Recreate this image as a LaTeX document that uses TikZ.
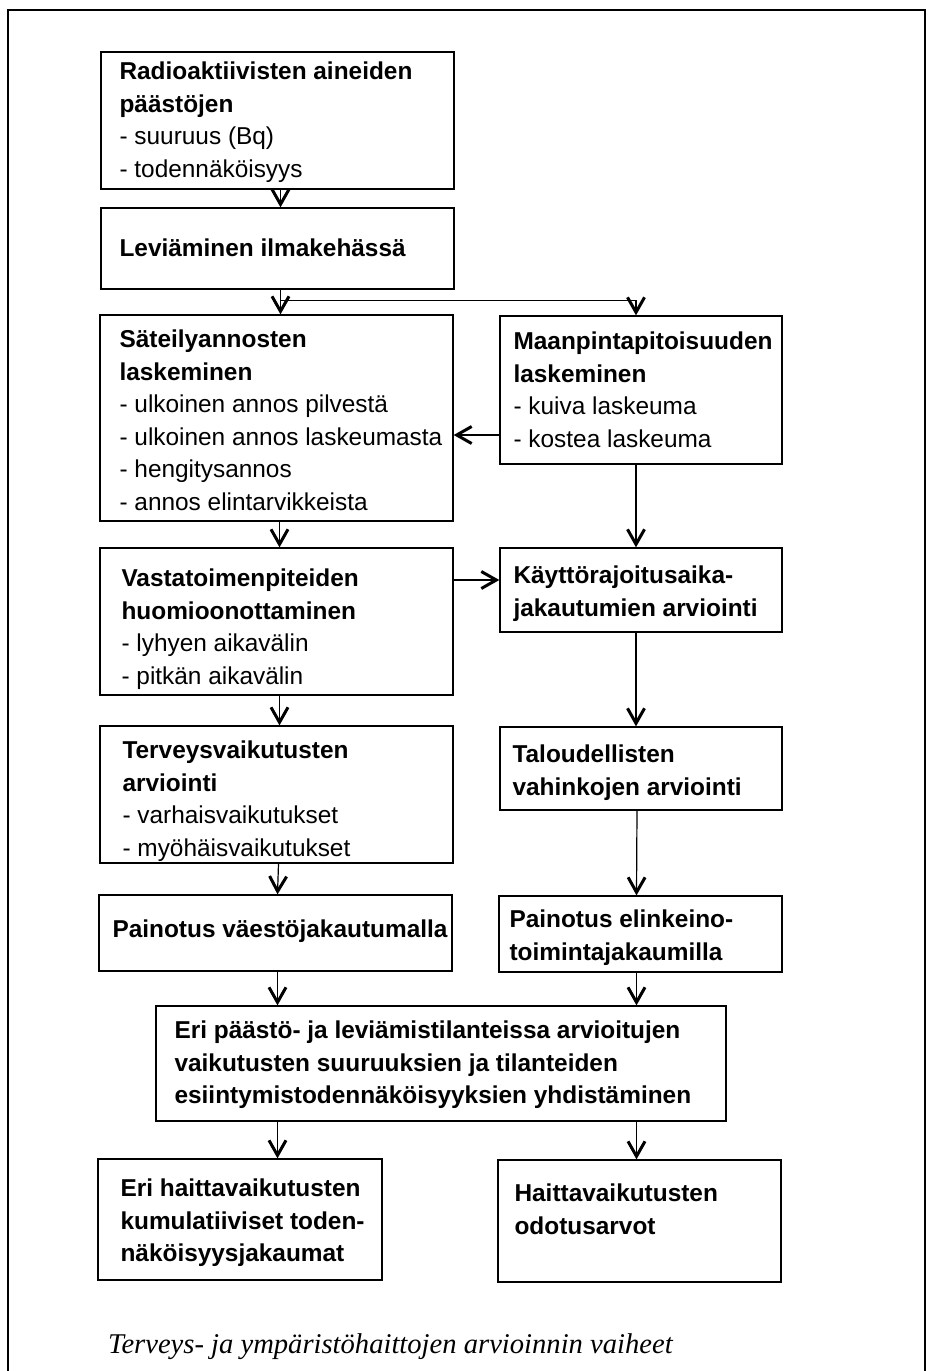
\documentclass[tikz,border=0pt]{standalone}
\usepackage{fontspec}
\setmainfont{Liberation Sans}
\newfontfamily\capfont{Liberation Serif}
\usetikzlibrary{arrows.meta,calc}
\newcommand\tl{\rule{0pt}{23pt}}
\newcommand\mkbox[5]{\node[bx, minimum width={(#4-#2)*1pt}, minimum height={(#5-#3)*1pt}] (#1) at ({(#2+#4)/2},{(#3+#5)/2}) {};}
\begin{document}
\begin{tikzpicture}[x=1pt,y=-1pt,
  bx/.style={draw, line width=1.3pt, inner sep=0pt, rectangle},
  txt/.style={anchor=north west, inner sep=0pt, align=left, font=\fontsize{24.4}{32.5}\selectfont},
  arr/.style={line width=1.2pt, -{Straight Barb[length=15pt,width=17pt,line width=3pt]}},
  frame/.style={line width=1.5pt}]
\useasboundingbox (0,0) rectangle (933,1371);
\draw[frame] (8,1371) -- (8,10) -- (925,10) -- (925,1371);

\mkbox{b1}{101}{52}{454}{189}
\mkbox{b2}{101}{208}{454}{289}
\mkbox{b3}{100}{315}{453}{521}
\mkbox{b4}{500}{316}{782}{464}
\mkbox{b5}{100}{548}{453}{695}
\mkbox{b6}{500}{548}{782}{632}
\mkbox{b7}{100}{726}{453}{863}
\mkbox{b8}{500}{727}{782}{810}
\mkbox{b9}{99}{895}{452}{971}
\mkbox{b10}{499}{896}{782}{972}
\mkbox{b11}{156}{1006}{726}{1121}
\mkbox{b12}{98}{1159}{382}{1280}
\mkbox{b13}{498}{1160}{781}{1282}

\node[txt] (t1) at ($(b1.north west)+(19,5)$) {\tl\textbf{Radioaktiivisten aineiden}\\\textbf{päästöjen}\\- suuruus (Bq)\\- todennäköisyys};
\node[txt] (t2) at ($(b2.north west)+(19,26)$) {\tl\textbf{Leviäminen ilmakehässä}};
\node[txt] (t3) at ($(b3.north west)+(20,10)$) {\tl\textbf{Säteilyannosten}\\\textbf{laskeminen}\\- ulkoinen annos pilvestä\\- ulkoinen annos laskeumasta\\- hengitysannos\\- annos elintarvikkeista};
\node[txt] (t4) at ($(b4.north west)+(14,11)$) {\tl\textbf{Maanpintapitoisuuden}\\\textbf{laskeminen}\\- kuiva laskeuma\\- kostea laskeuma};
\node[txt] (t5) at ($(b5.north west)+(22,16)$) {\tl\textbf{Vastatoimenpiteiden}\\\textbf{huomioonottaminen}\\- lyhyen aikavälin\\- pitkän aikavälin};
\node[txt] (t6) at ($(b6.north west)+(14,13)$) {\tl\textbf{Käyttörajoitusaika-}\\\textbf{jakautumien arviointi}};
\node[txt] (t7) at ($(b7.north west)+(23,10)$) {\tl\textbf{Terveysvaikutusten}\\\textbf{arviointi}\\- varhaisvaikutukset\\- myöhäisvaikutukset};
\node[txt] (t8) at ($(b8.north west)+(13,13)$) {\tl\textbf{Taloudellisten}\\\textbf{vahinkojen arviointi}};
\node[txt] (t9) at ($(b9.north west)+(14,20)$) {\tl\textbf{Painotus väestöjakautumalla}};
\node[txt] (t10) at ($(b10.north west)+(11,9)$) {\tl\textbf{Painotus elinkeino-}\\\textbf{toimintajakaumilla}};
\node[txt] (t11) at ($(b11.north west)+(19,10)$) {\tl\textbf{Eri päästö- ja leviämistilanteissa arvioitujen}\\\textbf{vaikutusten suuruuksien ja tilanteiden}\\\textbf{esiintymistodennäköisyyksien yhdistäminen}};
\node[txt] (t12) at ($(b12.north west)+(23,15)$) {\tl\textbf{Eri haittavaikutusten}\\\textbf{kumulatiiviset toden-}\\\textbf{näköisyysjakaumat}};
\node[txt] (t13) at ($(b13.north west)+(17,19)$) {\tl\textbf{Haittavaikutusten}\\\textbf{odotusarvot}};

\coordinate (ax) at ($(b2.south)+(3,0)$);
\draw[arr] ($(b1.south)+(3,0)$) -- (ax |- b2.north);
\draw[arr] (ax) -- (ax |- b3.north);
\coordinate (sp) at ($(ax)+(0,11)$);
\draw[arr] (sp) -| ($(b4.north)+(-5,0)$);
\coordinate (m) at ($(b4.west)+(0,45)$);
\draw[arr] (m) -- (m -| b3.east);
\draw[arr] ($(b3.south)+(3,0)$) -- ($(b5.north)+(3,0)$);
\draw[arr] ($(b4.south)+(-5,0)$) -- ($(b6.north)+(-5,0)$);
\coordinate (k) at ($(b6.west)+(0,-10)$);
\draw[arr] (k -| b5.east) -- (k);
\draw[arr] ($(b5.south)+(3,0)$) -- ($(b7.north)+(3,0)$);
\draw[arr] ($(b6.south)+(-5,0)$) -- ($(b8.north)+(-5,0)$);
\draw[arr] ($(b7.south)+(2,0)$) -- ($(b9.north)+(2,0)$);
\draw[arr] ($(b8.south)+(-4,0)$) -- ($(b10.north)+(-4,0)$);
\draw[arr] ($(b9.south)+(2,0)$) -- ($(b9.south |- b11.north)+(2,0)$);
\draw[arr] ($(b10.south)+(-4,0)$) -- ($(b10.south |- b11.north)+(-4,0)$);
\draw[arr] ($(b9.south |- b11.south)+(2,0)$) -- ($(b9.south |- b12.north)+(2,0)$);
\draw[arr] ($(b13.north |- b11.south)+(-3,0)$) -- ($(b13.north)+(-3,0)$);

\node[anchor=base west, inner sep=0pt, font=\capfont\itshape\fontsize{28.6}{30}\selectfont] (cap) at (108,1353) {Terveys- ja ympäristöhaittojen arvioinnin vaiheet};
\end{tikzpicture}
\end{document}
